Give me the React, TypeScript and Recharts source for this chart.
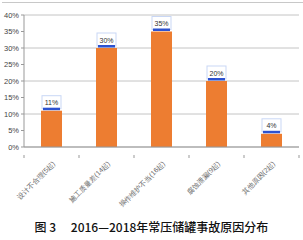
import React from "react";
import { BarChart, Bar, XAxis, YAxis, CartesianGrid, LabelList } from "recharts";

const causes = [
  "设计不合理(5起)",
  "施工质量差(14起)",
  "操作维护不当(16起)",
  "腐蚀泄漏(9起)",
  "其他原因(2起)",
];
const shares = [11, 30, 35, 20, 4];
const yTicks = [0, 5, 10, 15, 20, 25, 30, 35, 40];
const title = "图 3\u3000 2016—2018年常压储罐事故原因分布";

const data = causes.map((name, i) => ({ name, share: shares[i] }));

const BAND_HALF = 27.5;

function CauseTick(props: any) {
  const { x, y, payload, index } = props;
  return (
    <g>
      {index === 0 && <line x1={x - BAND_HALF} y1={y} x2={x - BAND_HALF} y2={y + 3} stroke="#999" />}
      <line x1={x + BAND_HALF} y1={y} x2={x + BAND_HALF} y2={y + 3} stroke="#999" />
      <text
        x={x + 4}
        y={y + 9}
        textAnchor="end"
        fontSize={7}
        fill="#666"
        transform={`rotate(-45 ${x + 4} ${y + 9})`}
      >
        {payload.value}
      </text>
    </g>
  );
}

function ShareLabel(props: any) {
  const { x, y, width, value } = props;
  const cx = x + width / 2;
  return (
    <g>
      <rect x={cx - 9.5} y={y - 15} width={19} height={13} fill="#fff" stroke="#c9d7f5" strokeWidth={1} />
      <rect x={cx - 8.5} y={y - 3} width={17} height={2.5} fill="#2d52d0" />
      <text x={cx} y={y - 5.5} textAnchor="middle" fontSize={7} fill="#333">
        {value}%
      </text>
    </g>
  );
}

export default function App() {
  return (
    <div style={{ position: "absolute", left: 0, top: 0, width: 303, height: 240, background: "#fff", fontFamily: "'Liberation Sans', Arial, sans-serif" }}>
      <div style={{ position: "absolute", left: 2, top: 2, width: 301, height: 1, background: "#c8c8c8" }} />
      <BarChart width={303} height={240} data={data} margin={{ top: 15, right: 4, left: 0, bottom: 33 }}>
        <CartesianGrid horizontal vertical={false} stroke="#c4c4c4" />
        <XAxis
          dataKey="name"
          interval={0}
          height={60}
          stroke="#999"
          tickLine={false}
          tick={<CauseTick />}
        />
        <YAxis
          domain={[0, 40]}
          ticks={yTicks}
          width={24}
          stroke="#999"
          tickSize={3}
          tick={{ fontSize: 7.5, fill: "#444" }}
          tickFormatter={(v: number) => `${v}%`}
        />
        <Bar dataKey="share" fill="#ED7D31" barSize={21} isAnimationActive={false}>
          <LabelList dataKey="share" content={<ShareLabel />} />
        </Bar>
      </BarChart>
      <div
        style={{
          position: "absolute",
          left: 0,
          width: 303,
          top: 218,
          textAlign: "center",
          fontFamily: "'Noto Sans CJK SC', sans-serif",
          fontSize: 12,
          fontWeight: 500,
          color: "#111",
          whiteSpace: "pre",
        }}
      >
        {title}
      </div>
    </div>
  );
}
